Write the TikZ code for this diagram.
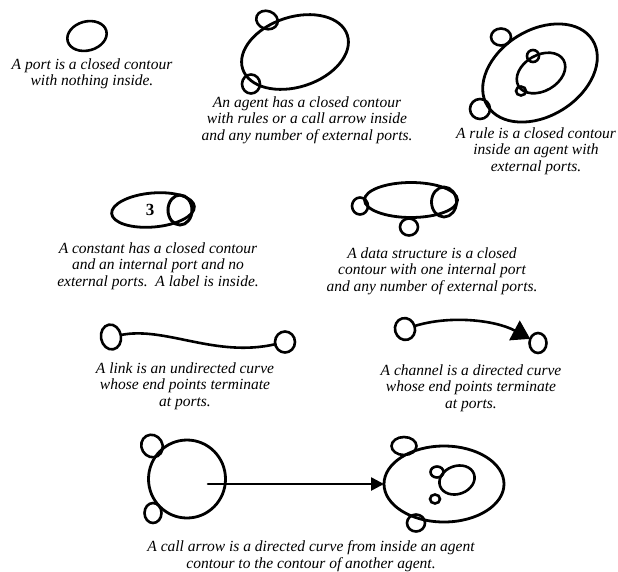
\documentclass[tikz,border=0pt]{standalone}
\usepackage{fontspec}
\setmainfont{Liberation Serif}
\usetikzlibrary{shapes.geometric,arrows.meta}
\begin{document}
\begin{tikzpicture}[x=1pt,y=1pt,
  contour/.style={draw, ellipse, line width=2.8pt, inner sep=0pt, outer sep=0pt},
  portshape/.style={draw, ellipse, line width=2.6pt, inner sep=0pt, outer sep=0pt},
  curveline/.style={line width=2.6pt, line cap=round},
  caption/.style={font=\fontsize{15.5}{16.5}\selectfont\itshape, align=center, inner sep=0pt},
]
\useasboundingbox (0,0) rectangle (618,-571);

% port
\node[portshape, minimum width=40, minimum height=29, rotate=15] (port) at (87,-36) {};
\node[caption] (portcap) at (92,-74) {A port is a closed contour\\with nothing inside.};

% agent
\node[contour, minimum width=110, minimum height=70, rotate=18] (agent) at (295,-52) {};
\node[portshape, minimum width=22, minimum height=18, rotate=-20] (agentp1) at (267,-20) {};
\node[portshape, minimum width=18, minimum height=19] (agentp2) at (251,-84) {};
\node[caption] (agentcap) at (307,-120) {An agent has a closed contour\\with rules or a call arrow inside\\and any number of external ports.};

% rule
\node[contour, minimum width=124, minimum height=86, rotate=32] (ragent) at (540,-73) {};
\node[portshape, minimum width=20, minimum height=17] (rport1) at (501,-37) {};
\node[portshape, minimum width=20, minimum height=20] (rport2) at (480,-109) {};
\node[contour, line width=2.6pt, minimum width=52, minimum height=36, rotate=30] (rule) at (541,-73) {};
\node[portshape, minimum width=12, minimum height=12] (rulep1) at (533,-56) {};
\node[portshape, minimum width=10, minimum height=9] (rulep2) at (521,-91) {};
\node[caption] (rulecap) at (536,-151) {A rule is a closed contour\\inside an agent with\\external ports.};

% constant
\node[contour, minimum width=83, minimum height=34, rotate=5] (const) at (153,-210) {};
\node[portshape, line width=3pt, minimum width=24, minimum height=30] (constp) at (180,-210) {};
\node[font=\bfseries\fontsize{17}{17}\selectfont, inner sep=0pt] (constlabel) at (150,-210) {3};
\node[caption] (constcap) at (158,-266) {A constant has a closed contour\\and an internal port and no\\external ports.\ \ A label is inside.};

% data structure
\node[contour, minimum width=93, minimum height=35] (ds) at (411,-200) {};
\node[portshape, line width=2.8pt, minimum width=25, minimum height=30] (dsp) at (444,-202) {};
\node[portshape, minimum width=16, minimum height=17] (dsp1) at (360,-206) {};
\node[portshape, minimum width=18, minimum height=17] (dsp2) at (409,-227) {};
\node[caption] (dscap) at (432,-271) {A data structure is a closed\\contour with one internal port\\and any number of external ports.};

% link
\node[portshape, minimum width=20, minimum height=25, rotate=10] (lp1) at (111,-337) {};
\node[portshape, minimum width=20, minimum height=21] (lp2) at (285,-342) {};
\draw[curveline] (lp1) .. controls (165,-326) and (215,-358) .. (lp2);
\node[caption] (linkcap) at (185,-386) {A link is an undirected curve\\whose end points terminate\\at ports.};

% channel
\node[portshape, minimum width=20, minimum height=22, rotate=15] (cp1) at (405,-329) {};
\node[portshape, minimum width=17, minimum height=20] (cp2) at (538,-343) {};
\draw[curveline, -{Triangle[length=18pt,width=22pt]}] (cp1) .. controls (450,-315) and (495,-320) .. (cp2);
\node[caption] (chancap) at (471,-388) {A channel is a directed curve\\whose end points terminate\\at ports.};

% call arrow
\node[contour, minimum width=77, minimum height=78] (caller) at (187,-479) {};
\node[portshape, minimum width=21, minimum height=23, rotate=30] (callerp1) at (152,-446) {};
\node[portshape, minimum width=17, minimum height=20] (callerp2) at (153,-513) {};
\node[contour, minimum width=120, minimum height=76] (callee) at (444,-484) {};
\node[portshape, minimum width=25, minimum height=18] (calleep1) at (404,-446) {};
\node[portshape, minimum width=18, minimum height=17] (calleep2) at (416,-523) {};
\node[contour, line width=2.6pt, minimum width=36, minimum height=28, rotate=20] (calleerule) at (457,-480) {};
\node[portshape, minimum width=13, minimum height=11] (calleerp1) at (437,-472) {};
\node[portshape, minimum width=10, minimum height=9] (calleerp2) at (435,-499) {};
\coordinate (callstart) at (208,-484);
\draw[curveline, -{Triangle[length=13pt,width=13pt]}] (callstart) -- (callee.west);
\node[caption] (callcap) at (311,-556) {A call arrow is a directed curve from inside an agent\\contour to the contour of another agent.};
\end{tikzpicture}
\end{document}
